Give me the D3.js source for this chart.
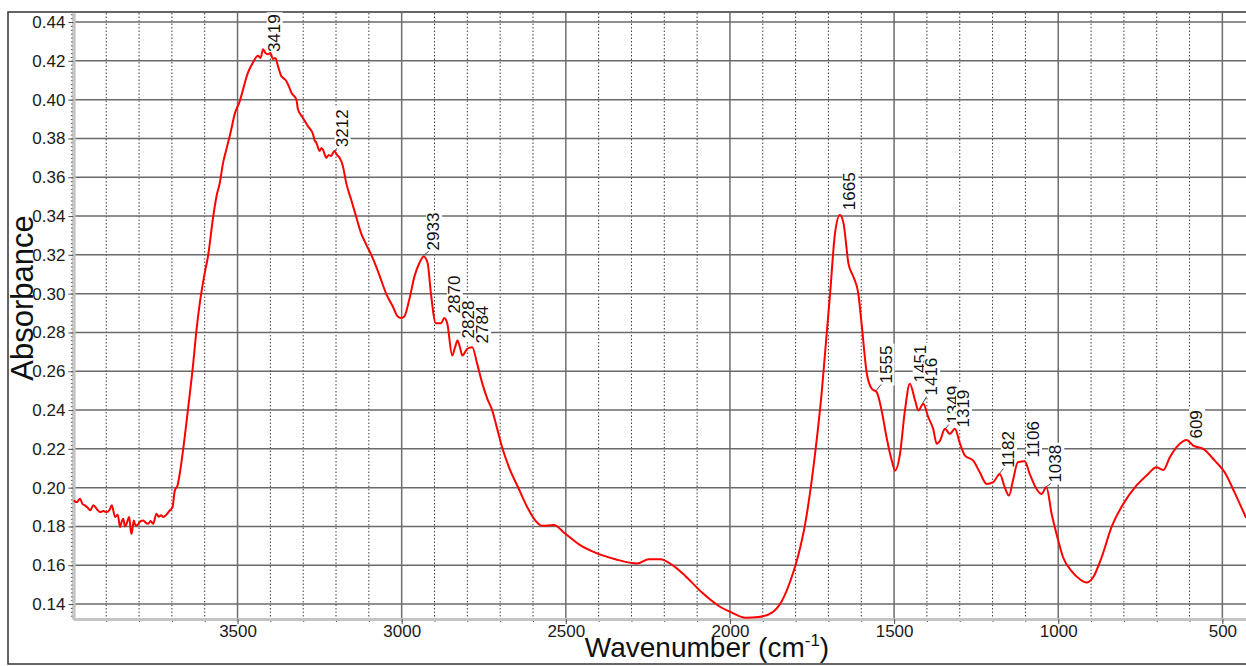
<!DOCTYPE html>
<html>
<head>
<meta charset="utf-8">
<script src="https://cdn.jsdelivr.net/npm/d3@7"></script>
<style>
body { margin: 0; background: #fff; }
svg { display: block; font-family: "Liberation Sans", Arial, sans-serif; }
</style>
</head>
<body>
<div id="chart"></div>
<script>
// spectrum (wavenumber in cm-1, absorbance)
var wavenumbers = [
    4000, 3990, 3980, 3972, 3965, 3957, 3949, 3939, 3929, 3919, 3909, 3899, 3890, 3883, 3873, 3865,
    3858, 3852, 3848, 3843, 3838, 3830, 3826, 3823, 3819, 3816, 3812, 3807, 3797, 3787, 3780, 3772,
    3765, 3757, 3747, 3740, 3733, 3726, 3716, 3706, 3698, 3691, 3683, 3676, 3666, 3650, 3635, 3625,
    3615, 3600, 3590, 3574, 3564, 3554, 3544, 3534, 3519, 3509, 3493, 3483, 3468, 3453, 3438, 3430,
    3422, 3415, 3407, 3400, 3392, 3385, 3377, 3367, 3360, 3352, 3344, 3336, 3321, 3316, 3301, 3286,
    3270, 3265, 3260, 3250, 3245, 3240, 3235, 3230, 3222, 3215, 3205, 3197, 3189, 3179, 3169, 3154,
    3139, 3124, 3108, 3093, 3078, 3063, 3048, 3027, 3012, 3002, 2992, 2977, 2961, 2946, 2933, 2921,
    2911, 2896, 2880, 2870, 2861, 2846, 2838, 2830, 2822, 2815, 2800, 2785, 2770, 2754, 2739, 2724,
    2709, 2694, 2673, 2643, 2617, 2592, 2572, 2536, 2506, 2460, 2410, 2349, 2283, 2247, 2212, 2176,
    2136, 2085, 2034, 1994, 1953, 1913, 1872, 1842, 1816, 1791, 1771, 1751, 1736, 1720, 1710, 1695,
    1680, 1665, 1654, 1639, 1624, 1609, 1599, 1583, 1568, 1553, 1538, 1523, 1507, 1497, 1482, 1467,
    1452, 1436, 1426, 1411, 1396, 1381, 1370, 1360, 1345, 1330, 1315, 1299, 1284, 1259, 1239, 1218,
    1198, 1178, 1163, 1150, 1138, 1123, 1102, 1087, 1066, 1051, 1036, 1020, 1005, 985, 960, 934,
    914, 894, 868, 838, 802, 762, 726, 701, 680, 660, 640, 620, 609, 589, 558, 523,
    493, 463, 428
];
var absorbance = [
    0.1935, 0.1925, 0.1943, 0.1915, 0.1909, 0.1898, 0.1883, 0.1909, 0.1890, 0.1874, 0.1880, 0.1874, 0.1885, 0.1909, 0.1849, 0.1860,
    0.1797, 0.1830, 0.1840, 0.1800, 0.1814, 0.1849, 0.1790, 0.1762, 0.1800, 0.1831, 0.1810, 0.1805, 0.1825, 0.1831, 0.1820, 0.1814,
    0.1828, 0.1814, 0.1866, 0.1850, 0.1858, 0.1849, 0.1862, 0.1883, 0.1900, 0.1986, 0.2010, 0.2072, 0.2193, 0.2417, 0.2641, 0.2813,
    0.2951, 0.3106, 0.3192, 0.3399, 0.3502, 0.3571, 0.3675, 0.3743, 0.3847, 0.3924, 0.3993, 0.4054, 0.4140, 0.4191, 0.4226, 0.4215,
    0.4260, 0.4240, 0.4234, 0.4240, 0.4209, 0.4215, 0.4174, 0.4122, 0.4110, 0.4097, 0.4070, 0.4036, 0.4002, 0.3950, 0.3907, 0.3864,
    0.3821, 0.3790, 0.3778, 0.3735, 0.3750, 0.3743, 0.3720, 0.3700, 0.3715, 0.3709, 0.3735, 0.3715, 0.3700, 0.3657, 0.3571, 0.3485,
    0.3399, 0.3313, 0.3253, 0.3201, 0.3141, 0.3072, 0.3003, 0.2934, 0.2882, 0.2874, 0.2882, 0.2968, 0.3089, 0.3158, 0.3192, 0.3158,
    0.3003, 0.2848, 0.2848, 0.2874, 0.2845, 0.2681, 0.2720, 0.2759, 0.2720, 0.2681, 0.2716, 0.2724, 0.2638, 0.2535, 0.2458, 0.2397,
    0.2303, 0.2208, 0.2105, 0.1993, 0.1898, 0.1829, 0.1803, 0.1808, 0.1769, 0.1708, 0.1665, 0.1631, 0.1609, 0.1631, 0.1631, 0.1602,
    0.1545, 0.1459, 0.1390, 0.1356, 0.1330, 0.1333, 0.1356, 0.1416, 0.1519, 0.1657, 0.1812, 0.2036, 0.2242, 0.2500, 0.2700, 0.3000,
    0.3310, 0.3405, 0.3362, 0.3155, 0.3087, 0.3000, 0.2845, 0.2587, 0.2510, 0.2492, 0.2398, 0.2260, 0.2139, 0.2088, 0.2174, 0.2398,
    0.2536, 0.2449, 0.2398, 0.2432, 0.2363, 0.2303, 0.2226, 0.2243, 0.2303, 0.2277, 0.2303, 0.2226, 0.2165, 0.2139, 0.2079, 0.2019,
    0.2028, 0.2071, 0.2002, 0.1959, 0.2036, 0.2131, 0.2136, 0.2071, 0.1993, 0.1967, 0.2002, 0.1864, 0.1760, 0.1640, 0.1571, 0.1528,
    0.1511, 0.1537, 0.1640, 0.1795, 0.1916, 0.2010, 0.2071, 0.2105, 0.2091, 0.2157, 0.2208, 0.2239, 0.2246, 0.2217, 0.2200, 0.2139,
    0.2079, 0.1976, 0.1845
];

// labelled peaks and the absorbance level where each label starts
var peakWavenumbers = [3419, 3212, 2933, 2870, 2828, 2784, 1665, 1555, 1451, 1416, 1349, 1319, 1182, 1106, 1038, 609];
var peakLabelLevels = [0.4245, 0.3755, 0.3223, 0.2898, 0.2769, 0.2743, 0.3430, 0.2537, 0.2542, 0.2475, 0.2330, 0.2310, 0.2103, 0.2155, 0.2026, 0.2253];

var yTicks = [0.14, 0.16, 0.18, 0.20, 0.22, 0.24, 0.26, 0.28, 0.30, 0.32, 0.34, 0.36, 0.38, 0.40, 0.42, 0.44];
var xTicks = [3500, 3000, 2500, 2000, 1500, 1000, 500];

var width = 1246, height = 666;
var plot = {left: 73.4, right: 1246, top: 13, bottom: 619};

var spectrum = wavenumbers.map(function(w, i) { return [w, absorbance[i]]; });

var x = d3.scaleLinear().domain([4000, 428]).range([plot.left, plot.right]);
var y = d3.scaleLinear().domain([0.1323, 0.44465]).range([plot.bottom, plot.top]);

var svg = d3.select('#chart').append('svg')
            .attr('width', width)
            .attr('height', height);

// outer frame (no right edge visible, it runs past the picture)
svg.append('rect')
   .attr('x', 8).attr('y', 12)
   .attr('width', width + 10).attr('height', 652)
   .attr('fill', 'none')
   .attr('stroke', '#333')
   .attr('stroke-width', 1.5);

var grid = svg.append('g');

// dotted minor verticals every 100 cm-1
grid.selectAll('line.minor')
    .data(d3.range(3900, 428, -100).filter(function(d) { return d % 500 !== 0; }))
    .enter().append('line')
    .attr('x1', function(d) { return x(d); })
    .attr('x2', function(d) { return x(d); })
    .attr('y1', plot.top).attr('y2', plot.bottom)
    .attr('stroke', '#3a3a3a')
    .attr('stroke-width', 1)
    .attr('stroke-dasharray', '1.5,2');

// solid verticals at the labelled ticks
grid.selectAll('line.vmajor')
    .data(xTicks)
    .enter().append('line')
    .attr('x1', function(d) { return x(d); })
    .attr('x2', function(d) { return x(d); })
    .attr('y1', plot.top).attr('y2', plot.bottom)
    .attr('stroke', '#6e6e6e')
    .attr('stroke-width', 1.5);

// solid horizontals
grid.selectAll('line.hmajor')
    .data(yTicks)
    .enter().append('line')
    .attr('x1', plot.left).attr('x2', plot.right)
    .attr('y1', function(d) { return y(d); })
    .attr('y2', function(d) { return y(d); })
    .attr('stroke', '#6a6a6a')
    .attr('stroke-width', 1.5);

// axes
var yAxis = d3.axisLeft(y).tickValues(yTicks).tickFormat(d3.format('.2f')).tickSize(5).tickSizeOuter(0);
var yMinor = d3.axisLeft(y).tickValues(d3.range(0.134, 0.4446, 0.002)).tickFormat('').tickSize(2.5).tickSizeOuter(0);
var xAxis = d3.axisBottom(x).tickValues(xTicks).tickFormat(d3.format('d')).tickSize(5).tickPadding(1).tickSizeOuter(0);
var xMinor = d3.axisBottom(x).tickValues(d3.range(3900, 428, -100)).tickFormat('').tickSize(3).tickSizeOuter(0);

function styleAxis(g) {
    g.select('.domain').attr('stroke', '#c4c4c4').attr('stroke-width', 3);
    g.selectAll('.tick line').attr('stroke', '#555');
    g.selectAll('.tick text').attr('fill', '#1a1a1a').style('font-size', '17px')
     .style('font-family', '"Liberation Sans", Arial, sans-serif');
}

svg.append('g').attr('transform', 'translate(' + plot.left + ',0)').call(yMinor).call(styleAxis);
svg.append('g').attr('transform', 'translate(' + plot.left + ',0)').call(yAxis).call(styleAxis);
svg.append('g').attr('transform', 'translate(0,' + plot.bottom + ')').call(xMinor).call(styleAxis);
svg.append('g').attr('transform', 'translate(0,' + plot.bottom + ')').call(xAxis).call(styleAxis);

// peak labels: white boxes first so the grid is hidden behind them
var curveAt = function(w) {
    for (var i = 0; i < wavenumbers.length - 1; i++) {
        if (w <= wavenumbers[i] && w >= wavenumbers[i + 1]) {
            var t = (wavenumbers[i] - w) / (wavenumbers[i] - wavenumbers[i + 1]);
            return absorbance[i] + t * (absorbance[i + 1] - absorbance[i]);
        }
    }
    return absorbance[absorbance.length - 1];
};

var peaks = peakWavenumbers.map(function(w, i) { return {wn: w, level: peakLabelLevels[i]}; });

var labelGroups = svg.append('g').selectAll('g')
    .data(peaks)
    .enter().append('g')
    .attr('transform', function(d) {
        return 'translate(' + x(d.wn) + ',' + y(d.level) + ') rotate(-90)';
    });

labelGroups.append('text')
    .attr('x', 0).attr('y', 15.5)
    .attr('fill', '#111')
    .style('font-size', '17px')
    .text(function(d) { return d.wn; });

labelGroups.each(function() {
    var g = d3.select(this);
    var box = g.select('text').node().getBBox();
    g.insert('rect', 'text')
     .attr('x', box.x - 2).attr('y', box.y + 2)
     .attr('width', box.width + 4).attr('height', box.height - 3)
     .attr('fill', '#fff');
});

// short leaders where a label sits clear of its peak
svg.append('g').selectAll('line')
    .data(peaks.filter(function(d) { return y(curveAt(d.wn)) - y(d.level) > 5; }))
    .enter().append('line')
    .attr('x1', function(d) { return x(d.wn); })
    .attr('y1', function(d) { return y(curveAt(d.wn)) - 1; })
    .attr('x2', function(d) { return x(d.wn) + 5; })
    .attr('y2', function(d) { return y(d.level) + 1; })
    .attr('stroke', '#444')
    .attr('stroke-width', 1);

// spectrum
svg.append('clipPath').attr('id', 'clip')
   .append('rect')
   .attr('x', plot.left).attr('y', plot.top)
   .attr('width', plot.right - plot.left).attr('height', plot.bottom - plot.top);

var line = d3.line()
             .x(function(d) { return x(d[0]); })
             .y(function(d) { return y(d[1]); })
             .curve(d3.curveMonotoneX);

svg.append('path')
   .datum(spectrum)
   .attr('clip-path', 'url(#clip)')
   .attr('d', line)
   .attr('fill', 'none')
   .attr('stroke', '#ff0000')
   .attr('stroke-width', 2);

// bring label text above the curve
labelGroups.raise();

// axis titles
svg.append('text')
   .attr('transform', 'translate(33,298) rotate(-90)')
   .attr('text-anchor', 'middle')
   .attr('fill', '#111')
   .style('font-size', '31px')
   .text('Absorbance');

var xTitle = svg.append('text')
   .attr('x', 707).attr('y', 657)
   .attr('text-anchor', 'middle')
   .attr('fill', '#111')
   .style('font-size', '28px');
xTitle.append('tspan').text('Wavenumber (cm');
xTitle.append('tspan').attr('dy', -11).style('font-size', '17px').text('-1');
xTitle.append('tspan').attr('dy', 11).text(')');
</script>
</body>
</html>
